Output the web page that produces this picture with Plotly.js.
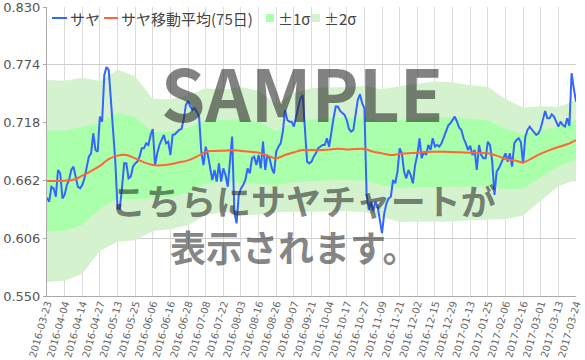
<!DOCTYPE html>
<html><head><meta charset="utf-8">
<script src="https://cdn.plot.ly/plotly-3.0.1.min.js"></script>
<style>html,body{margin:0;padding:0;background:#fff}#chart{width:585px;height:360px}</style>
</head><body><div id="chart"></div>
<script>
// x tick labels (every 8th trading day)
const tickDates = ['2016-03-23','2016-04-04','2016-04-14','2016-04-27','2016-05-13','2016-05-25','2016-06-06','2016-06-16','2016-06-28','2016-07-08','2016-07-22','2016-08-03','2016-08-16','2016-08-26','2016-09-07','2016-09-21','2016-10-04','2016-10-17','2016-10-27','2016-11-09','2016-11-21','2016-12-02','2016-12-15','2016-12-29','2017-01-13','2017-01-25','2017-02-06','2017-02-16','2017-03-01','2017-03-13','2017-03-24'];

// サヤ (daily spread), 241 trading days
const saya = [
0.6453,0.6414,0.6559,0.6543,0.6462,0.6721,0.6689,0.6446,0.6479,0.6575,
0.6624,0.6721,0.6753,0.6656,0.6559,0.6543,0.6575,0.6640,0.6737,0.6850,
0.6882,0.7076,0.6915,0.6899,0.7238,0.7189,0.7641,0.7719,0.7690,0.7415,
0.7157,0.6802,0.6350,0.6343,0.6543,0.6785,0.6785,0.6640,0.6656,0.6753,
0.6785,0.6802,0.6850,0.6931,0.6931,0.6979,0.6963,0.7060,0.7118,0.6769,
0.6882,0.6963,0.7012,0.7060,0.6979,0.6995,0.6866,0.7060,0.7067,0.7092,
0.7109,0.7118,0.7205,0.7351,0.7390,0.7335,0.7302,0.7319,0.7286,0.7238,
0.6899,0.6769,0.6947,0.6866,0.6737,0.6624,0.6721,0.6608,0.6785,0.6608,
0.6737,0.6672,0.6559,0.6769,0.7044,0.6317,0.6204,0.6479,0.6543,0.6575,
0.6624,0.6737,0.6689,0.6834,0.6850,0.6769,0.6866,0.6737,0.6995,0.6721,
0.6866,0.6834,0.6737,0.6689,0.6899,0.6947,0.6979,0.7092,0.7302,0.7205,
0.7189,0.7189,0.7141,0.7238,0.7319,0.7415,0.7448,0.7060,0.6802,0.6785,
0.6802,0.6850,0.6882,0.6931,0.6947,0.6963,0.6963,0.7028,0.6947,0.7109,
0.7222,0.7335,0.7335,0.7293,0.7270,0.7254,0.7205,0.7118,0.7092,0.7109,
0.7254,0.7399,0.7454,0.7367,0.7319,0.6479,0.6333,0.6414,0.6324,0.6414,
0.6366,0.6253,0.6110,0.6301,0.6398,0.6446,0.6462,0.6624,0.6592,0.6705,
0.6931,0.6882,0.6705,0.6640,0.6721,0.6672,0.6592,0.6769,0.6866,0.7028,
0.6834,0.6899,0.6866,0.6963,0.6915,0.7028,0.6947,0.6963,0.6947,0.6979,
0.7034,0.7086,0.7151,0.7173,0.7212,0.7238,0.7189,0.7131,0.7109,0.7028,
0.6979,0.6915,0.6957,0.6866,0.6915,0.6721,0.6963,0.6866,0.6834,0.6834,
0.6995,0.6963,0.6802,0.6479,0.6705,0.6737,0.6785,0.6834,0.6882,0.6802,
0.6882,0.6753,0.6979,0.7012,0.7028,0.6989,0.6785,0.7044,0.7109,0.7141,
0.7109,0.7086,0.7060,0.7076,0.7125,0.7205,0.7293,0.7222,0.7222,0.7260,
0.7238,0.7189,0.7141,0.7189,0.7157,0.7141,0.7222,0.7150,0.7658,0.7512,
0.7383];

// サヤ移動平均(75日), read every 4th trading day
const ma75 = [
0.6614,0.6614,0.6617,0.6627,0.6666,0.6711,0.6760,0.6827,0.6860,0.6866,
0.6834,0.6795,0.6769,0.6766,0.6776,0.6795,0.6814,0.6850,0.6898,0.6905,
0.6908,0.6914,0.6905,0.6898,0.6889,0.6860,0.6834,0.6866,0.6892,0.6914,
0.6914,0.6914,0.6920,0.6927,0.6920,0.6924,0.6924,0.6898,0.6882,0.6866,
0.6876,0.6882,0.6889,0.6895,0.6898,0.6898,0.6895,0.6892,0.6889,0.6885,
0.6882,0.6860,0.6827,0.6814,0.6795,0.6834,0.6879,0.6914,0.6944,0.6970,
0.7011];

// band edges, read every 8th trading day
const up2 = [0.7593,0.7586,0.7615,0.7583,0.7693,0.7629,0.7409,0.7406,0.7445,0.7513,0.7499,0.7525,0.7489,0.7358,0.7468,0.7512,0.7522,0.7522,0.7535,0.7503,0.7535,0.7557,0.7577,0.7570,0.7542,0.7528,0.7409,0.7327,0.7338,0.7331,0.7399];
const up1 = [0.7104,0.7102,0.7141,0.7172,0.7276,0.7232,0.7089,0.7091,0.7130,0.7205,0.7203,0.7215,0.7189,0.7096,0.7180,0.7213,0.7222,0.7222,0.7230,0.7193,0.7205,0.7223,0.7237,0.7233,0.7215,0.7205,0.7118,0.7065,0.7109,0.7140,0.7205];
const lo1 = [0.6125,0.6133,0.6191,0.6348,0.6443,0.6437,0.6450,0.6461,0.6500,0.6591,0.6612,0.6595,0.6588,0.6573,0.6605,0.6616,0.6621,0.6621,0.6619,0.6573,0.6547,0.6554,0.6559,0.6558,0.6562,0.6560,0.6537,0.6542,0.6649,0.6757,0.6818];
const lo2 = [0.5636,0.5648,0.5716,0.5936,0.6026,0.6040,0.6130,0.6146,0.6185,0.6284,0.6317,0.6285,0.6288,0.6311,0.6317,0.6318,0.6321,0.6321,0.6314,0.6263,0.6217,0.6220,0.6220,0.6221,0.6235,0.6237,0.6246,0.6280,0.6420,0.6566,0.6624];

const yTicks = [0.550,0.606,0.662,0.718,0.774,0.830];
const legendNames = ['サヤ', 'サヤ移動平均(75日)', '±1σ', '±2σ'];

const xDay = saya.map((_, i) => i);
const xMa = ma75.map((_, i) => i * 4);
const xBand = up2.map((_, i) => i * 8);
const xTicks = tickDates.map((_, i) => i * 8);

const cBlue = 'rgb(51,102,255)';
const cOrange = 'rgb(255,102,51)';
const c2 = 'rgb(212,242,206)';
const c1 = 'rgb(170,255,170)';

const traces = [
  {x: xBand, y: up2, type: 'scatter', mode: 'lines', line: {width: 0, color: c2}, showlegend: false, hoverinfo: 'skip'},
  {x: xBand, y: lo2, type: 'scatter', mode: 'lines', line: {width: 0, color: c2}, fill: 'tonexty', fillcolor: c2, name: legendNames[3], showlegend: false},
  {x: xBand, y: up1, type: 'scatter', mode: 'lines', line: {width: 0, color: c1}, showlegend: false, hoverinfo: 'skip'},
  {x: xBand, y: lo1, type: 'scatter', mode: 'lines', line: {width: 0, color: c1}, fill: 'tonexty', fillcolor: c1, name: legendNames[2], showlegend: false},
  {x: xDay, y: saya, type: 'scatter', mode: 'lines', line: {width: 2, color: cBlue}, name: legendNames[0], showlegend: false},
  {x: xMa, y: ma75, type: 'scatter', mode: 'lines', line: {width: 2, color: cOrange, shape: 'spline'}, name: legendNames[1], showlegend: false}
];

// compact legend (top-left, inside plot)
const L = 47, T = 7, W = 529, H = 289;
const px = v => (v - L) / W;
const py = v => (T + H - v) / H;
const legFont = {size: 15, color: '#444', family: '"Noto Sans CJK JP", sans-serif'};
const legShapes = [
  {type: 'line', xref: 'paper', yref: 'paper', x0: px(52), x1: px(67), y0: py(18), y1: py(18), line: {color: cBlue, width: 2}},
  {type: 'line', xref: 'paper', yref: 'paper', x0: px(104), x1: px(118), y0: py(18), y1: py(18), line: {color: cOrange, width: 2}},
  {type: 'rect', xref: 'paper', yref: 'paper', x0: px(266), x1: px(274), y0: py(22), y1: py(14), line: {width: 0}, fillcolor: c1},
  {type: 'rect', xref: 'paper', yref: 'paper', x0: px(312), x1: px(320), y0: py(22), y1: py(14), line: {width: 0}, fillcolor: c2}
];
const legX = [68, 119, 276, 322];
const legAnn = legendNames.map((t, i) => ({xref: 'paper', yref: 'paper', x: px(legX[i]), y: py(18.5), xanchor: 'left', yanchor: 'middle',
  text: t, showarrow: false, font: legFont}));

const wmCol = 'rgba(40,40,40,0.58)';
const jp = '"Noto Sans CJK JP", "DejaVu Sans", sans-serif';

const layout = {
  width: 585, height: 360,
  margin: {l: 47, r: 9, t: 7, b: 64},
  paper_bgcolor: '#fff', plot_bgcolor: '#fff',
  font: {family: '"DejaVu Sans", Verdana, sans-serif', color: '#555'},
  xaxis: {
    range: [0, 240], tickvals: xTicks, ticktext: tickDates, tickangle: -74,
    tickfont: {size: 10, color: '#666'}, showgrid: true, gridcolor: '#dcdcdc', gridwidth: 1,
    showline: true, linecolor: '#aaa', zeroline: false, ticks: '', ticklabelstandoff: -3,
    ticklabeloverflow: 'allow', fixedrange: true
  },
  yaxis: {
    range: [0.55, 0.83], tickvals: yTicks, tickformat: '.3f', ticklabeloverflow: 'allow',
    tickfont: {size: 13, color: '#555'}, showgrid: true, gridcolor: '#cfcfcf',
    showline: true, linecolor: '#aaa', zeroline: false, ticks: 'outside', ticklen: 3, tickcolor: '#aaa'
  },
  showlegend: false,
  shapes: legShapes,
  annotations: legAnn.concat([
    {xref: 'paper', yref: 'paper', x: px(301.5), y: py(91), xanchor: 'center', yanchor: 'middle', text: '<b>SAMPLE</b>', showarrow: false,
      font: {size: 71, color: wmCol, family: jp}},
    {xref: 'paper', yref: 'paper', x: px(303.5), y: py(199), xanchor: 'center', yanchor: 'middle', text: '<b>こちらにサヤチャートが</b>', showarrow: false,
      font: {size: 35, color: wmCol, family: jp}},
    {xref: 'paper', yref: 'paper', x: px(294), y: py(246), xanchor: 'center', yanchor: 'middle', text: '<b>表示されます。</b>', showarrow: false,
      font: {size: 36, color: wmCol, family: jp}}
  ])
};

Plotly.newPlot('chart', traces, layout, {displayModeBar: false, staticPlot: true});
</script>
</body></html>
